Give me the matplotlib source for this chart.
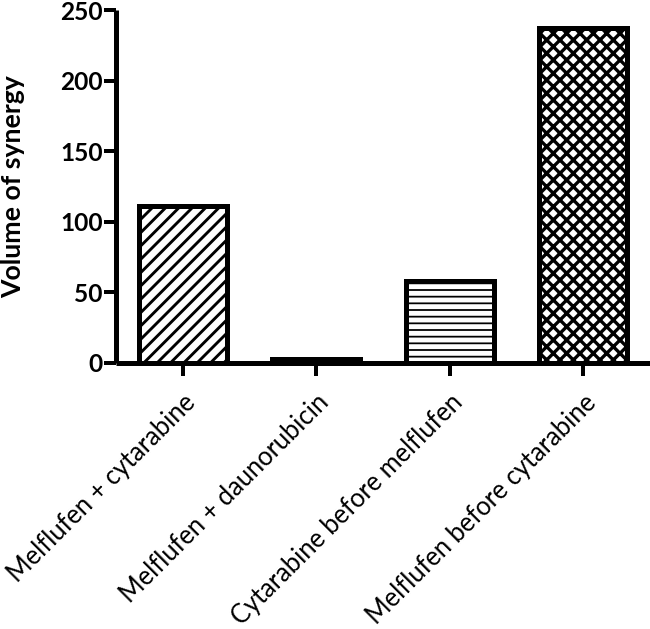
import matplotlib
matplotlib.use("Agg")
import matplotlib.pyplot as plt

# data
labels = ["Melflufen + cytarabine", "Melflufen + daunorubicin",
          "Cytarabine before melflufen", "Melflufen before cytarabine"]
values = [111, 3, 58, 237]
hatches = ["//", "", "--", "xx"]
hatch_lw = [2.6, 1.0, 1.6, 3.0]

plt.rcParams['font.family'] = ['Lato', 'DejaVu Sans']

dpi = 80
fig = plt.figure(figsize=(650 / dpi, 629 / dpi), dpi=dpi)
ax = fig.add_axes([116 / 650, 1 - 363 / 629, 1 - 116 / 650, 353 / 629])

x = range(len(labels))
for i in x:
    plt.rcParams['hatch.linewidth'] = hatch_lw[i]
    b = ax.bar(i, values[i], width=0.66, color="white", edgecolor="black",
               linewidth=4.5, hatch=hatches[i], zorder=3)
    for p in b:
        if hasattr(p, "set_hatch_linewidth"):
            p.set_hatch_linewidth(hatch_lw[i])

ax.set_xlim(-0.5, 3.5)
ax.set_ylim(0, 250)
ax.set_yticks([0, 50, 100, 150, 200, 250])
ax.set_xticks(list(x))
ax.set_xticklabels(labels, rotation=45, ha="right", rotation_mode="anchor",
                   fontsize=23)
for t in ax.get_yticklabels():
    t.set_fontweight("bold")
    t.set_fontsize(22)
ax.set_ylabel("Volume of synergy", fontsize=24, fontweight="bold", labelpad=31)

for s in ["top", "right"]:
    ax.spines[s].set_visible(False)
for s in ["left", "bottom"]:
    ax.spines[s].set_linewidth(4.5)
    ax.spines[s].set_capstyle("butt")
ax.tick_params(axis="y", length=11, width=3.6, pad=1)
ax.tick_params(axis="x", length=12, width=3.6, pad=12)

fig.savefig("out.png", dpi=dpi)
